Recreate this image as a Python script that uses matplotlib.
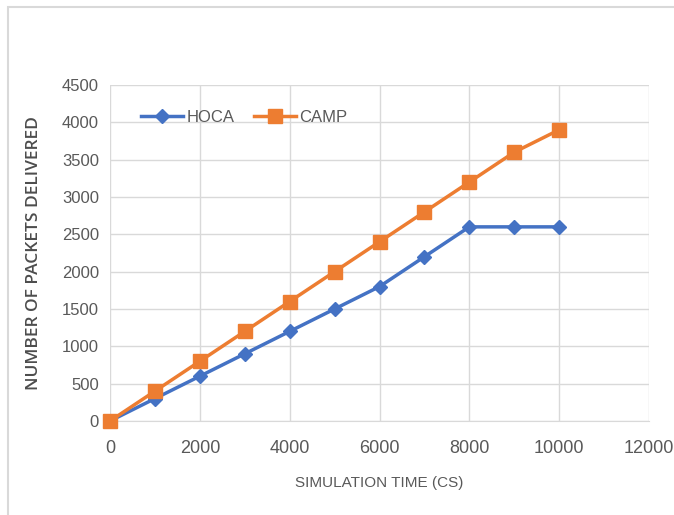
import matplotlib
matplotlib.use("Agg")
from matplotlib import pyplot as plt
from matplotlib.patches import Rectangle

time = [0, 1000, 2000, 3000, 4000, 5000, 6000, 7000, 8000, 9000, 10000]
hoca = [0, 300, 600, 900, 1200, 1500, 1800, 2200, 2600, 2600, 2600]
camp = [0, 400, 800, 1200, 1600, 2000, 2400, 2800, 3200, 3600, 3900]

grey = "#595959"
fig = plt.figure(figsize=(6.74, 5.15), dpi=100)

# frame of the embedded chart
fig.patches.append(Rectangle((8 / 674, -0.1), 2, 1.1 - 7 / 515, transform=fig.transFigure,
                             fill=False, edgecolor="#d9d9d9", linewidth=1.5))

ax = fig.add_axes([110 / 674, 1 - 421 / 515, 539 / 674, 336 / 515])
ax.plot(time, hoca, color="#4472C4", marker="D", markersize=7, linewidth=2.5, label="HOCA",
        zorder=3, clip_on=False)
ax.plot(time, camp, color="#ED7D31", marker="s", markersize=10, linewidth=2.5, label="CAMP",
        zorder=3, clip_on=False)

ax.set_xlim(0, 12000)
ax.set_ylim(0, 4500)
ax.set_xticks(range(0, 12001, 2000))
ax.set_yticks(range(0, 4501, 500))
ax.grid(True, color="#d9d9d9", linewidth=1)
ax.set_axisbelow(True)
for s in ["top", "right", "left"]:
    ax.spines[s].set_visible(False)
ax.spines["bottom"].set_color("#d9d9d9")
ax.tick_params(length=0, colors=grey, labelsize=11, pad=8)
ax.tick_params(axis="x", pad=14, labelsize=13)
for lab in ax.get_xticklabels():
    lab.set_family("Liberation Sans")
for lab in ax.get_yticklabels():
    lab.set_family("Liberation Sans")
    lab.set_fontsize(12)

ax.set_ylabel("NUMBER OF PACKETS DELIVERED", fontsize=12.5, color="#4d4d4d", labelpad=14,
              family="Open Sans", fontweight="semibold")
ax.set_xlabel("SIMULATION TIME (CS)", fontsize=11, color=grey,
              family="Liberation Sans", labelpad=13)

ax.legend(loc="upper left", bbox_to_anchor=(0.03, 0.97), ncol=2, frameon=False,
          labelcolor=grey, handlelength=2.5, columnspacing=1.2, handletextpad=0.2,
          prop={"family": "Liberation Sans", "size": 12})

fig.savefig("out.png", dpi=100)
